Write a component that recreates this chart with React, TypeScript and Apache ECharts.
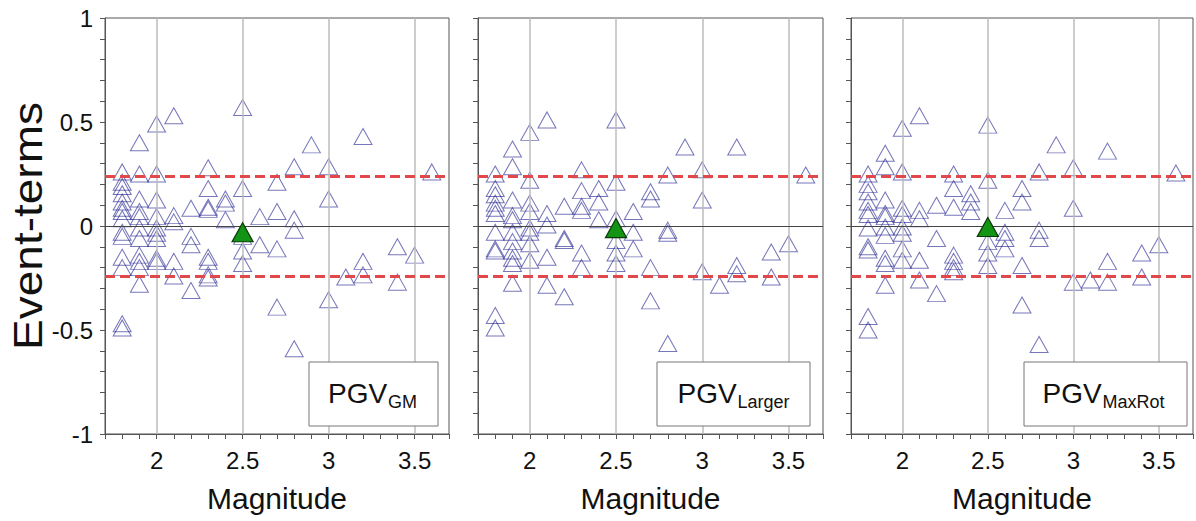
import React, { useEffect, useRef } from "react";
import * as echarts from "echarts";

// ---- data: [magnitude, event-term] ----
const gmPoints: number[][] = [
  [1.8, 0.26], [1.8, 0.21], [1.8, 0.19], [1.8, 0.155], [1.8, 0.115], [1.8, 0.085], [1.8, 0.07], [1.8, 0.035],
  [1.8, -0.03], [1.8, -0.05], [1.8, -0.15], [1.8, -0.2], [1.8, -0.47], [1.8, -0.49],
  [1.9, 0.4], [1.9, 0.25], [1.9, 0.13], [1.9, 0.07], [1.9, 0.045], [1.9, -0.01], [1.9, -0.06], [1.9, -0.14],
  [1.9, -0.17], [1.9, -0.2], [1.9, -0.28],
  [2.0, 0.49], [2.0, 0.25], [2.0, 0.125], [2.0, 0.045], [2.0, -0.01], [2.0, -0.035], [2.0, -0.06], [2.0, -0.155], [2.0, -0.17],
  [2.1, 0.53], [2.1, 0.05], [2.1, 0.02], [2.1, -0.17], [2.1, -0.24],
  [2.2, 0.085], [2.2, -0.05], [2.2, -0.09], [2.2, -0.31],
  [2.3, 0.28], [2.3, 0.18], [2.3, 0.09], [2.3, 0.08], [2.3, -0.15], [2.3, -0.17], [2.3, -0.235], [2.3, -0.25],
  [2.4, 0.13], [2.4, 0.11], [2.4, 0.03],
  [2.5, 0.57], [2.5, 0.18], [2.5, -0.05], [2.5, -0.12], [2.5, -0.18],
  [2.6, 0.045], [2.6, -0.09],
  [2.7, 0.21], [2.7, 0.07], [2.7, -0.11], [2.7, -0.39],
  [2.8, 0.285], [2.8, 0.035], [2.8, -0.02], [2.8, -0.59],
  [2.9, 0.39],
  [3.0, 0.285], [3.0, 0.13], [3.0, -0.355],
  [3.1, -0.245],
  [3.2, 0.43], [3.2, -0.17], [3.2, -0.235],
  [3.4, -0.1], [3.4, -0.27],
  [3.5, -0.14],
  [3.6, 0.26],
];
const largerPoints: number[][] = [
  [1.8, 0.25], [1.8, 0.18], [1.8, 0.15], [1.8, 0.11], [1.8, 0.085], [1.8, 0.06], [1.8, -0.03], [1.8, -0.11],
  [1.8, -0.12], [1.8, -0.43], [1.8, -0.49],
  [1.9, 0.37], [1.9, 0.285], [1.9, 0.125], [1.9, 0.05], [1.9, 0.03], [1.9, -0.03], [1.9, -0.075], [1.9, -0.12],
  [1.9, -0.155], [1.9, -0.18], [1.9, -0.275],
  [2.0, 0.45], [2.0, 0.22], [2.0, 0.11], [2.0, 0.07], [2.0, -0.01], [2.0, -0.03], [2.0, -0.085], [2.0, -0.165],
  [2.1, 0.51], [2.1, 0.06], [2.1, 0.005], [2.1, -0.15], [2.1, -0.285],
  [2.2, 0.095], [2.2, -0.06], [2.2, -0.07], [2.2, -0.34],
  [2.3, 0.27], [2.3, 0.17], [2.3, 0.095], [2.3, 0.075], [2.3, -0.13], [2.3, -0.2],
  [2.4, 0.18], [2.4, 0.115], [2.4, 0.03],
  [2.5, 0.51], [2.5, 0.21], [2.5, 0.035], [2.5, -0.07], [2.5, -0.13], [2.5, -0.18],
  [2.6, 0.07], [2.6, -0.03], [2.6, -0.11],
  [2.7, 0.165], [2.7, 0.13], [2.7, -0.2], [2.7, -0.36],
  [2.8, 0.245], [2.8, -0.02], [2.8, -0.035], [2.8, -0.565],
  [2.9, 0.38],
  [3.0, 0.27], [3.0, 0.125], [3.0, -0.22],
  [3.1, -0.285],
  [3.2, 0.38], [3.2, -0.19], [3.2, -0.23],
  [3.4, -0.125], [3.4, -0.245],
  [3.5, -0.085],
  [3.6, 0.245],
];
const maxRotPoints: number[][] = [
  [1.8, 0.25], [1.8, 0.2], [1.8, 0.165], [1.8, 0.115], [1.8, 0.075], [1.8, 0.055], [1.8, -0.01], [1.8, -0.1],
  [1.8, -0.115], [1.8, -0.435], [1.8, -0.5],
  [1.9, 0.35], [1.9, 0.285], [1.9, 0.125], [1.9, 0.06], [1.9, 0.045], [1.9, -0.005], [1.9, -0.045], [1.9, -0.155],
  [1.9, -0.18], [1.9, -0.285],
  [2.0, 0.47], [2.0, 0.26], [2.0, 0.085], [2.0, 0.055], [2.0, -0.005], [2.0, -0.035], [2.0, -0.11], [2.0, -0.165],
  [2.1, 0.53], [2.1, 0.075], [2.1, 0.035], [2.1, -0.165], [2.1, -0.26],
  [2.2, 0.1], [2.2, -0.06], [2.2, -0.325],
  [2.3, 0.25], [2.3, 0.18], [2.3, 0.09], [2.3, -0.14], [2.3, -0.17], [2.3, -0.2], [2.3, -0.22],
  [2.4, 0.155], [2.4, 0.115], [2.4, 0.07],
  [2.5, 0.485], [2.5, 0.22], [2.5, -0.075], [2.5, -0.13], [2.5, -0.19],
  [2.6, 0.075], [2.6, -0.03], [2.6, -0.06], [2.6, -0.11],
  [2.7, 0.18], [2.7, 0.115], [2.7, -0.19], [2.7, -0.38],
  [2.8, 0.26], [2.8, -0.02], [2.8, -0.06], [2.8, -0.57],
  [2.9, 0.39],
  [3.0, 0.28], [3.0, 0.085], [3.0, -0.27],
  [3.1, -0.26],
  [3.2, 0.36], [3.2, -0.17], [3.2, -0.27],
  [3.4, -0.13], [3.4, -0.245],
  [3.5, -0.09],
  [3.6, 0.255],
];
const meanPoints: number[][] = [[2.5, -0.03], [2.5, -0.01], [2.5, -0.005]];
const panelSubscripts = ["GM", "Larger", "MaxRot"];
const sigmaBand = 0.245;
const gridMagnitudes = [2, 2.5, 3, 3.5];

const FONT = "'Liberation Sans', Arial, Helvetica, sans-serif";

export default function App() {
  const ref = useRef<HTMLDivElement>(null);
  useEffect(() => {
    if (!ref.current) return;
    const chart = echarts.init(ref.current, undefined, { renderer: "svg" });
    const grids = [
      { left: 105, top: 18, width: 344, height: 416 },
      { left: 478, top: 18, width: 345, height: 416 },
      { left: 851, top: 18, width: 344, height: 416 },
    ];
    const sets = [gmPoints, largerPoints, maxRotPoints];
    const xFmt = (v: number) => {
      const r = Math.round(v * 10) / 10;
      return Math.abs(r * 2 - Math.round(r * 2)) < 1e-9 ? String(r) : "";
    };
    const xAxis = grids.map((_, i) => ({
      type: "value",
      gridIndex: i,
      min: 1.7,
      max: 3.7,
      interval: 0.1,
      name: "Magnitude",
      nameLocation: "middle",
      nameGap: 49,
      nameTextStyle: { fontSize: 30, color: "#111", fontFamily: FONT },
      axisLine: { show: true, onZero: false, lineStyle: { color: "#555", width: 1 } },
      axisTick: { show: true, length: 5, lineStyle: { color: "#555" } },
      axisLabel: { formatter: xFmt, fontSize: 24, color: "#111", margin: 14, fontFamily: FONT },
      splitLine: { show: false },
    }));
    const yAxis = grids.map((_, i) => ({
      type: "value",
      gridIndex: i,
      min: -1,
      max: 1,
      interval: 0.5,
      axisLine: { show: true, onZero: false, lineStyle: { color: "#555", width: 1 } },
      axisTick: { show: true, length: 5, lineStyle: { color: "#555" } },
      minorTick: { show: true, splitNumber: 5, length: 5, lineStyle: { color: "#555" } },
      axisLabel: {
        show: i === 0,
        fontSize: 24,
        color: "#111",
        margin: 12,
        fontFamily: FONT,
        formatter: (v: number) => String(v),
      },
      splitLine: { show: false },
    }));
    const series: any[] = [];
    grids.forEach((_, i) => {
      series.push({
        type: "line",
        xAxisIndex: i,
        yAxisIndex: i,
        data: [],
        z: 1,
        silent: true,
        markLine: {
          silent: true,
          symbol: ["none", "none"],
          label: { show: false },
          animation: false,
          data: [
            ...gridMagnitudes.map((m) => ({ xAxis: m, lineStyle: { color: "#bdbdbd", width: 1.5, type: "solid" } })),
            { yAxis: 0, lineStyle: { color: "#444", width: 1, type: "solid" } },
            { yAxis: sigmaBand, lineStyle: { color: "#e2474a", width: 3, type: [10, 5] } },
            { yAxis: -sigmaBand, lineStyle: { color: "#e2474a", width: 3, type: [10, 5] } },
          ],
        },
      });
      series.push({
        type: "scatter",
        xAxisIndex: i,
        yAxisIndex: i,
        data: sets[i],
        symbol: "triangle",
        symbolSize: [18, 16],
        z: 3,
        itemStyle: { color: "rgba(255,255,255,0)", borderColor: "rgba(35,35,145,0.78)", borderWidth: 1 },
      });
      series.push({
        type: "scatter",
        xAxisIndex: i,
        yAxisIndex: i,
        data: [meanPoints[i]],
        symbol: "triangle",
        symbolSize: [21, 19],
        z: 5,
        itemStyle: { color: "#149414", borderColor: "#0a3a0a", borderWidth: 1.2, opacity: 1 },
      });
    });

    const graphic: any[] = [
      {
        type: "text",
        x: 28,
        y: 226,
        rotation: Math.PI / 2,
        scaleX: 1.15,
        style: {
          text: "Event-terms",
          fontSize: 40,
          fill: "#111",
          align: "center",
          verticalAlign: "middle",
          fontFamily: FONT,
        },
      },
    ];
    const boxW = [129, 153, 163];
    const boxRightInset = [11, 13, 8];
    grids.forEach((g, i) => {
      const bx = g.left + g.width - boxRightInset[i] - boxW[i];
      const by = g.top + g.height - 8 - 64;
      graphic.push({
        type: "rect",
        shape: { x: bx, y: by, width: boxW[i], height: 64 },
        style: { fill: "#fff", stroke: "#777", lineWidth: 1 },
        z: 10,
      });
      const mainW = 59;
      const subW = [31, 52, 66][i];
      const startX = bx + (boxW[i] - mainW - subW - 1) / 2;
      graphic.push({
        type: "text",
        x: startX,
        y: by + 31,
        z: 11,
        style: { text: "PGV", fontSize: 28, fill: "#111", align: "left", verticalAlign: "middle", fontFamily: FONT },
      });
      graphic.push({
        type: "text",
        x: startX + mainW + 1,
        y: by + 40,
        z: 11,
        style: {
          text: panelSubscripts[i],
          fontSize: 18,
          fill: "#111",
          align: "left",
          verticalAlign: "middle",
          fontFamily: FONT,
        },
      });
    });

    chart.setOption({
      animation: false,
      backgroundColor: "#fff",
      textStyle: { fontFamily: FONT },
      grid: grids.map((g) => ({ ...g, show: true, borderColor: "#555", borderWidth: 1, backgroundColor: "transparent" })),
      xAxis,
      yAxis,
      series,
      graphic,
    });
    return () => chart.dispose();
  }, []);
  return (
    <div
      ref={ref}
      style={{ position: "fixed", left: 0, top: 0, width: 1196, height: 521, background: "#fff" }}
    />
  );
}
